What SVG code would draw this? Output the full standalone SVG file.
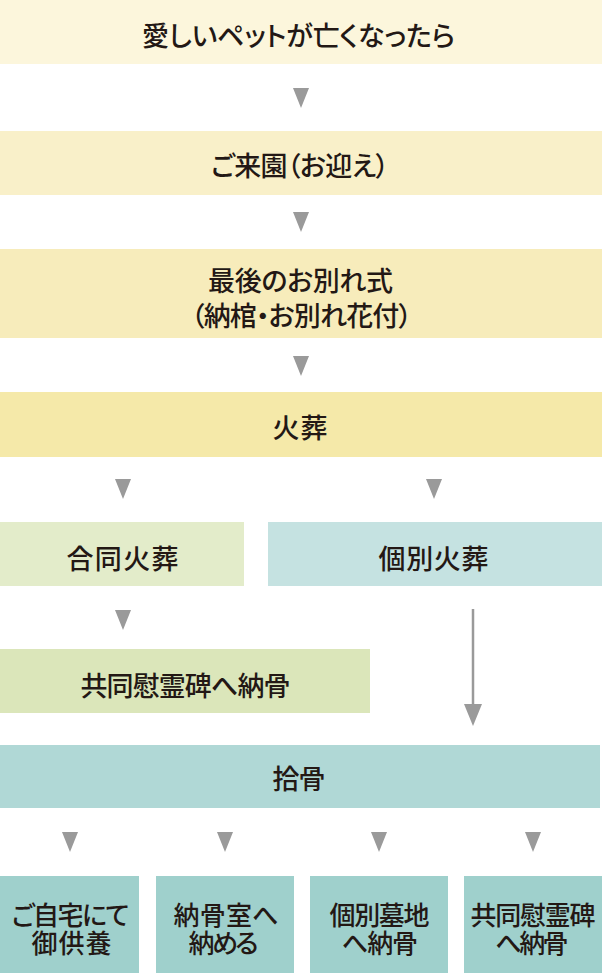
<svg xmlns="http://www.w3.org/2000/svg" width="602" height="973" viewBox="0 0 602 973">
<defs>
<style>
text{font-family:"Noto Sans CJK JP","Noto Sans CJK SC",sans-serif;font-size:27px;font-weight:500;fill:#231815;text-anchor:middle;dominant-baseline:central;font-feature-settings:"palt"}
text.s{font-size:26px}
.arr{fill:#9a9a9a}
</style>
<polygon id="tri" class="arr" points="-8,0 8,0 0,20"/>
</defs>
<rect width="602" height="973" fill="#ffffff"/>
<g id="n1"><rect x="0" y="0" width="602" height="64" fill="#fcf6dc"/><text x="298.5" y="34" textLength="313" lengthAdjust="spacing">愛しいペットが亡くなったら</text></g>
<g id="n2"><rect x="0" y="131" width="602" height="64" fill="#f9f0c9"/><text x="300" y="164" textLength="178" lengthAdjust="spacing">ご来園（お迎え）</text></g>
<g id="n3"><rect x="0" y="249" width="602" height="89" fill="#f7ecbb"/><text x="300.5" y="279" textLength="185" lengthAdjust="spacing">最後のお別れ式</text><text x="301.5" y="314" textLength="221" lengthAdjust="spacing">（納棺・お別れ花付）</text></g>
<g id="n4"><rect x="0" y="392" width="602" height="65" fill="#f5e9a9"/><text x="300" y="426" textLength="55" lengthAdjust="spacing">火葬</text></g>
<g id="n5"><rect x="0" y="522" width="244" height="64" fill="#e3ecca"/><text x="122.5" y="557" textLength="112" lengthAdjust="spacing">合同火葬</text></g>
<g id="n6"><rect x="268" y="522" width="334" height="64" fill="#c5e2e1"/><text x="433.5" y="557" textLength="110" lengthAdjust="spacing">個別火葬</text></g>
<g id="n7"><rect x="0" y="649" width="370" height="64" fill="#dbe6ba"/><text x="185.5" y="684" textLength="210" lengthAdjust="spacing">共同慰霊碑へ納骨</text></g>
<g id="n8"><rect x="0" y="745" width="600" height="63" fill="#b0d8d6"/><text x="299" y="777" textLength="53" lengthAdjust="spacing">拾骨</text></g>
<g id="n9"><rect x="0" y="876" width="139" height="97" fill="#9fd0cc"/><text class="s" x="70.5" y="913" textLength="118" lengthAdjust="spacing">ご自宅にて</text><text class="s" x="71.5" y="941" textLength="80" lengthAdjust="spacing">御供養</text></g>
<g id="n10"><rect x="156" y="876" width="138" height="97" fill="#9fd0cc"/><text class="s" x="226" y="913" textLength="105" lengthAdjust="spacing">納骨室へ</text><text class="s" x="223.5" y="941" textLength="70" lengthAdjust="spacing">納める</text></g>
<g id="n11"><rect x="310" y="876" width="138" height="97" fill="#9fd0cc"/><text class="s" x="379.5" y="913" textLength="100" lengthAdjust="spacing">個別墓地</text><text class="s" x="380" y="941" textLength="76" lengthAdjust="spacing">へ納骨</text></g>
<g id="n12"><rect x="464" y="876" width="138" height="97" fill="#9fd0cc"/><text class="s" x="533" y="913" textLength="125" lengthAdjust="spacing">共同慰霊碑</text><text class="s" x="532" y="941" textLength="73" lengthAdjust="spacing">へ納骨</text></g>
<g id="connectors">
<use href="#tri" x="301" y="88"/>
<use href="#tri" x="301" y="212"/>
<use href="#tri" x="301" y="356"/>
<use href="#tri" x="123" y="479"/>
<use href="#tri" x="434" y="479"/>
<use href="#tri" x="123" y="610"/>
<line x1="473" y1="609" x2="473" y2="708" stroke="#9a9a9a" stroke-width="2.5"/>
<polygon class="arr" points="464,704 482,704 473,726"/>
<use href="#tri" x="70" y="832"/>
<use href="#tri" x="225" y="832"/>
<use href="#tri" x="379" y="832"/>
<use href="#tri" x="533" y="832"/>
</g>
</svg>
